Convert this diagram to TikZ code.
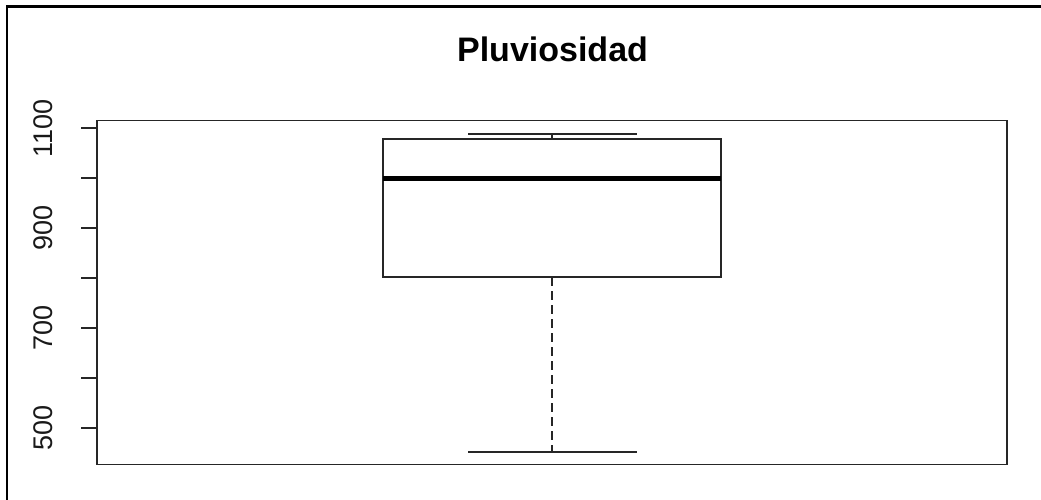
\documentclass[tikz,border=0pt]{standalone}
\usepackage{fontspec}
\setmainfont{Liberation Sans}
\usepackage{tikz}

\begin{document}
\begin{tikzpicture}[
    x=1pt, y=1pt,
    frame/.style={line width=2.2pt, black},
    axisline/.style={line width=1.8pt, black!85},
    boxline/.style={line width=1.8pt, black!85},
    medianline/.style={line width=5pt, black},
    whisker/.style={line width=1.8pt, black!85, dash pattern=on 9pt off 5pt},
    ticklabel/.style={rotate=90, anchor=base, inner sep=0pt, font=\fontsize{27}{30}\selectfont, text=black!90},
    title/.style={anchor=base, inner sep=0pt, font=\bfseries\fontsize{34}{40}\selectfont}
]
\useasboundingbox (0,0) rectangle (1041,500);

\draw[frame] (6.6,0) -- (6.6,493.4) -- (1041,493.4);

\node[title] (titulo) at (552.5,438) {Pluviosidad};

\begin{scope}[y=0.5pt, yshift=-178.3pt]
  \coordinate (ll) at (97,427.5);
  \coordinate (ur) at (1007,1115.5);
  \draw[axisline] (ll) rectangle (ur);

  \foreach \v in {500,600,...,1100}
    \draw[axisline] (97,\v) -- (81,\v);
  \foreach \v in {500,700,900,1100}
    \node[ticklabel] (lab\v) at (52,\v) {\v};

  \coordinate (q1l) at (383,802);
  \coordinate (q3r) at (721,1078);
  \draw[boxline] (q1l) rectangle (q3r);
  \draw[medianline] (383,1000) -- (721,1000);

  \coordinate (maxw) at (552,1088);
  \coordinate (minw) at (552,452);
  \draw[boxline] (468,1088) -- (637,1088);
  \draw[boxline] (maxw) -- (552,1078);
  \draw[whisker] (552,802) -- (minw);
  \draw[boxline] (468,452) -- (637,452);
\end{scope}
\end{tikzpicture}
\end{document}
